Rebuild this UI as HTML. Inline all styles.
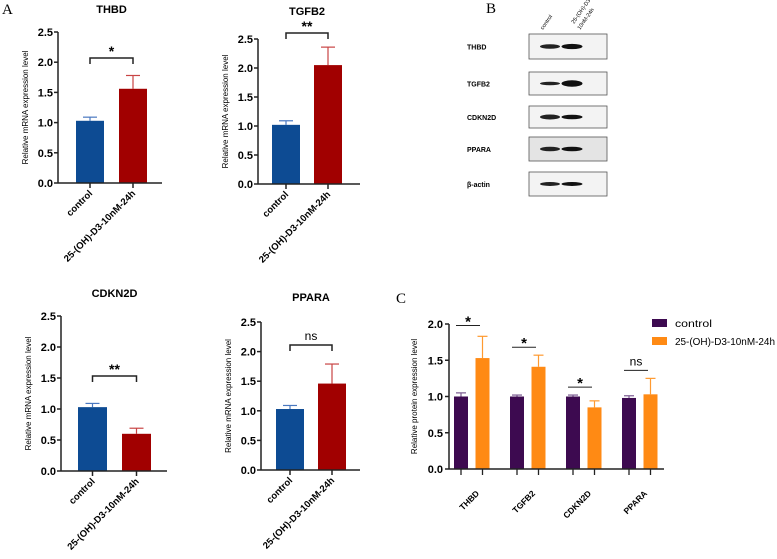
<!DOCTYPE html>
<html><head><meta charset="utf-8"><style>
body{margin:0;background:#fff}
svg{display:block;font-family:"Liberation Sans",Arial,sans-serif}
</style></head><body>
<svg id="fig" width="777" height="559" viewBox="0 0 777 559">
<text x="2" y="14" font-family="Liberation Serif" font-size="15">A</text>
<text x="486" y="13" font-family="Liberation Serif" font-size="15">B</text>
<text x="396" y="303" font-family="Liberation Serif" font-size="15">C</text>
<g id="blot"></g>
</svg>
<script>
const panelTitles=["THBD","TGFB2","CDKN2D","PPARA"];
const groupLabels=["control","25-(OH)-D3-10nM-24h"];
const ctrlVals=[1.03,1.02,1.03,1.03];
const ctrlErr=[1.09,1.09,1.09,1.09];
const trtVals=[1.56,2.05,0.60,1.46];
const trtErr=[1.78,2.36,0.69,1.79];
const sigLabels=["*","**","**","ns"];
const yTicks=[0,0.5,1.0,1.5,2.0,2.5];
const yTickLabels=["0.0","0.5","1.0","1.5","2.0","2.5"];

const cCats=["THBD","TGFB2","CDKN2D","PPARA"];
const cCtrl=[1.0,1.0,1.0,0.98];
const cCtrlErr=[1.05,1.02,1.02,1.01];
const cTrt=[1.53,1.41,0.85,1.03];
const cTrtErr=[1.83,1.57,0.94,1.25];
const cSig=["*","*","*","ns"];
const cTicks=[0,0.5,1.0,1.5,2.0];
const cTickLabels=["0.0","0.5","1.0","1.5","2.0"];

const blotRows=["THBD","TGFB2","CDKN2D","PPARA","β-actin"];

const NS="http://www.w3.org/2000/svg";
const svg=document.getElementById('fig');
function mk(tag,attrs,parent,txt){const e=document.createElementNS(NS,tag);for(const k in attrs)e.setAttribute(k,attrs[k]);if(txt!==undefined)e.textContent=txt;(parent||svg).appendChild(e);return e;}

const layouts=[
 {ax:58,y0:183,y25:32,x1:76,x2:119,bw:28,xe:162,bry:58,ty:13},
 {ax:258,y0:184,y25:39,x1:272,x2:314,bw:28,xe:360,bry:33,ty:15},
 {ax:61,y0:471,y25:316,x1:78,x2:122,bw:29,xe:167,bry:376,ty:297},
 {ax:261,y0:470,y25:322,x1:276,x2:318,bw:28,xe:360,bry:345,ty:301}
];
layouts.forEach((L,i)=>{
 const g=mk('g',{});
 
 
 const y=v=>L.y0-(L.y25-L.y0)*-v/2.5;
 const t=mk('text',{x:(L.x1+L.x2+L.bw)/2,y:L.ty,'text-anchor':'middle','font-size':11,'font-weight':'bold'},g,panelTitles[i]);
 
 
 mk('line',{x1:L.ax,y1:y(2.5),x2:L.ax,y2:L.y0,stroke:'#222','stroke-width':1.5},g);
 yTicks.forEach((v,k)=>{
  mk('line',{x1:L.ax-4,y1:y(v),x2:L.ax,y2:y(v),stroke:'#222','stroke-width':1.5},g);
  const tl=mk('text',{x:L.ax-5,y:y(v)+4,'text-anchor':'end','font-size':11,'font-weight':'bold'},g,yTickLabels[k]);
  
  
 });
 const yt=mk('text',{transform:`translate(${L.ax-30},${(y(2.5)+L.y0)/2}) rotate(-90)`,'text-anchor':'middle','font-size':8},g,'Relative mRNA expression level');
 
 
 const vals=[ctrlVals[i],trtVals[i]],errs=[ctrlErr[i],trtErr[i]],xs=[L.x1,L.x2];
 const fills=['#0d4b93','#a10000'],ebc=['#4a78c0','#c84444'];
 vals.forEach((v,k)=>{
  const cx=xs[k]+L.bw/2;
  mk('line',{x1:cx,y1:y(v),x2:cx,y2:y(errs[k]),stroke:ebc[k],'stroke-width':1.2},g);
  mk('line',{x1:cx-7,y1:y(errs[k]),x2:cx+7,y2:y(errs[k]),stroke:ebc[k],'stroke-width':1.2},g);
  const r=mk('rect',{x:xs[k],y:y(v),width:L.bw,height:L.y0-y(v),fill:fills[k]},g);
  
  
  mk('line',{x1:cx,y1:L.y0,x2:cx,y2:L.y0+5,stroke:'#222','stroke-width':1.5},g);
  const xl=mk('text',{transform:`translate(${cx+3},${L.y0+11}) rotate(-45)`,'text-anchor':'end','font-size':9.5,'font-weight':'bold'},g,groupLabels[k]);
  
  
 });
 mk('line',{x1:L.ax,y1:L.y0,x2:L.xe,y2:L.y0,stroke:'#222','stroke-width':1.5},g);
 const bx1=L.x1+L.bw/2,bx2=L.x2+L.bw/2;
 mk('path',{d:`M${bx1},${L.bry+6}V${L.bry}H${bx2}V${L.bry+6}`,fill:'none',stroke:'#222','stroke-width':1.5},g);
 const s=mk('text',{x:(bx1+bx2)/2,y:L.bry-(sigLabels[i]==='ns'?5:2),'text-anchor':'middle','font-size':sigLabels[i]==='ns'?12:14,'font-weight':sigLabels[i]==='ns'?'normal':'bold'},g,sigLabels[i]);
 
 
});

const blot=document.getElementById('blot');
const rowY=[[34,59],[72,95],[106,128],[137,161],[172,196]];
const bandW=[[1,1.2],[0.7,1.5],[1.1,1],[1,1],[0.8,0.8]];
blotRows.forEach((n,i)=>{
 const [a,b]=rowY[i];
 const lb=mk('text',{x:467,y:(a+b)/2+3,'font-size':7,'font-weight':'bold'},blot,n);
 
 
 mk('rect',{x:529,y:a,width:78,height:b-a,fill:i==3?'#e4e4e4':'#f3f3f3',stroke:'#555','stroke-width':0.8},blot);
 const m=(a+b)/2;
 mk('ellipse',{cx:550,cy:m,rx:10,ry:1.8*bandW[i][0]+0.5,fill:'#222'},blot);
 mk('ellipse',{cx:572,cy:m,rx:10.5,ry:1.8*bandW[i][1]+0.5,fill:'#111'},blot);
});
const c1=mk('text',{transform:'translate(543,30) rotate(-55)','font-size':5.5},blot,'control');


const c2=mk('text',{transform:'translate(574,24) rotate(-55)','font-size':5.5},blot,'25-(OH)-D3-');


const c3=mk('text',{transform:'translate(580,30) rotate(-55)','font-size':5.5},blot,'10nM-24h');



(function(){
 const g=mk('g',{});
 
 
 const ax=449,y0=469,ytop=324,bw=14,xe=664;
 const y=v=>y0-(y0-ytop)*v/2.0;
 const gx=k=>454+k*56;
 mk('line',{x1:ax,y1:ytop,x2:ax,y2:y0,stroke:'#222','stroke-width':1.5},g);
 cTicks.forEach((v,k)=>{
  mk('line',{x1:ax-4,y1:y(v),x2:ax,y2:y(v),stroke:'#222','stroke-width':1.5},g);
  const t=mk('text',{x:ax-6,y:y(v)+4,'text-anchor':'end','font-size':11,'font-weight':'bold'},g,cTickLabels[k]);
  
  
 });
 const yt=mk('text',{transform:`translate(${ax-32},${(ytop+y0)/2}) rotate(-90)`,'text-anchor':'middle','font-size':8},g,'Relative protein expression level');
 
 
 cCats.forEach((c,k)=>{
  const xs=[gx(k),gx(k)+21.5],vals=[cCtrl[k],cTrt[k]],errs=[cCtrlErr[k],cTrtErr[k]];
  const fills=['#3d0a50','#ff8a14'],ebc=['#7a5a90','#ff9a30'];
  vals.forEach((v,j)=>{
   const cx=xs[j]+bw/2;
   mk('line',{x1:cx,y1:y(v),x2:cx,y2:y(errs[j]),stroke:ebc[j],'stroke-width':1.2},g);
   mk('line',{x1:cx-5,y1:y(errs[j]),x2:cx+5,y2:y(errs[j]),stroke:ebc[j],'stroke-width':1.2},g);
   const r=mk('rect',{x:xs[j],y:y(v),width:bw,height:y0-y(v),fill:fills[j]},g);
   
   
   mk('line',{x1:cx,y1:y0,x2:cx,y2:y0+6,stroke:'#222','stroke-width':1.3},g);
  });
  const mid=gx(k)+(21.5+bw)/2;
  const xl=mk('text',{transform:`translate(${mid+8},${y0+25}) rotate(-45)`,'text-anchor':'end','font-size':8.5,'font-weight':'bold'},g,c);
  
  
  const ly=k==0?y(1.98):k==1?y(1.68):k==2?y(1.13):y(1.36);
  mk('line',{x1:gx(k)+2,y1:ly,x2:gx(k)+26,y2:ly,stroke:'#222','stroke-width':1},g);
  const s=mk('text',{x:gx(k)+14,y:ly-(cSig[k]==='ns'?5:-1),'text-anchor':'middle','font-size':cSig[k]==='ns'?12:15,'font-weight':cSig[k]==='ns'?'normal':'bold'},g,cSig[k]);
  
  
 });
 mk('line',{x1:ax,y1:y0,x2:xe,y2:y0,stroke:'#222','stroke-width':1.5},g);
 const legNames=['control','25-(OH)-D3-10nM-24h'],legCols=['#3d0a50','#ff8a14'];
 legNames.forEach((n,j)=>{
  const e=mk('g',{},g);
  
  
  mk('rect',{x:652,y:319+j*18,width:15,height:8,fill:legCols[j]},e);
  mk('text',{x:675,y:327+j*18,'font-size':10,textLength:j?100:37,lengthAdjust:'spacingAndGlyphs'},e,n);
 });
})();
</script>
</body></html>
